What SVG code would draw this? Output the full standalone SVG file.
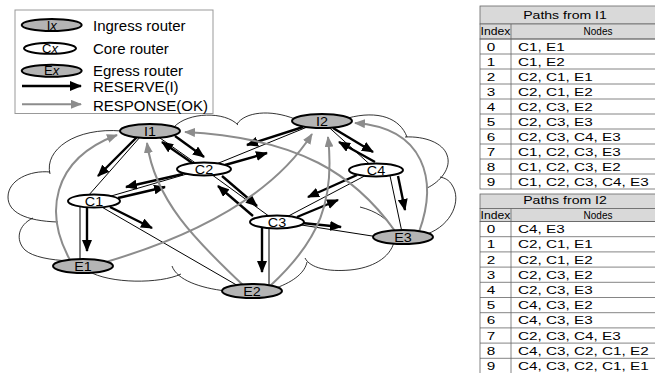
<svg xmlns="http://www.w3.org/2000/svg" width="655" height="373" viewBox="0 0 655 373">
<defs>
<style>
text{font-family:"Liberation Sans",Arial,sans-serif;fill:#000}
.gn{fill:#b4b4b4;stroke:#000;stroke-width:2}
.cn{fill:#fff;stroke:#000;stroke-width:2}
.lbl{font-size:12.5px;text-anchor:middle}
.link{stroke:#000;stroke-width:1;fill:none}
.rsv{stroke:#000;stroke-width:2.4;fill:none;marker-end:url(#ab)}
.rsp{stroke:#8c8c8c;stroke-width:2;fill:none;marker-end:url(#ag)}
.cloud{stroke:#000;stroke-width:0.8;fill:none}
.lg{font-size:15px}
.th{fill:#d9d9d9;stroke:#666;stroke-width:0.8}
.tl{stroke:#666;stroke-width:0.8;fill:none}
.tt{font-size:11.5px}
.hd{font-size:11px;text-anchor:middle}
.sm{font-size:10px;text-anchor:middle}
.ix{text-anchor:middle}
</style>
<marker id="ab" viewBox="0 0 12 10" refX="11" refY="5" markerWidth="12" markerHeight="10" markerUnits="userSpaceOnUse" orient="auto"><path d="M0,0 L12,5 L0,10 z" fill="#000"/></marker>
<marker id="ag" viewBox="0 0 11 9" refX="10" refY="4.5" markerWidth="11" markerHeight="9" markerUnits="userSpaceOnUse" orient="auto"><path d="M0,0 L11,4.5 L0,9 z" fill="#8c8c8c"/></marker>
</defs>
<rect width="655" height="373" fill="#fff"/>

<g id="legend">
<rect x="15" y="10" width="198" height="103.5" fill="#fff" stroke="#999" stroke-width="1"/>
<ellipse class="gn" cx="51.7" cy="25" rx="30" ry="6"/>
<text x="51.7" y="29.5" font-size="13" text-anchor="middle">I<tspan font-style="italic">x</tspan></text>
<ellipse class="cn" cx="50" cy="48.3" rx="26" ry="5.5"/>
<text x="50" y="52.8" font-size="13" text-anchor="middle">C<tspan font-style="italic">x</tspan></text>
<ellipse class="gn" cx="51.7" cy="70.7" rx="30" ry="6"/>
<text x="51.7" y="75.2" font-size="13" text-anchor="middle">E<tspan font-style="italic">x</tspan></text>
<line x1="22" y1="86" x2="81" y2="86" class="rsv"/>
<line x1="22" y1="104.3" x2="81" y2="104.3" class="rsp"/>
<text class="lg" x="93" y="30.5">Ingress router</text>
<text class="lg" x="93" y="53.5">Core router</text>
<text class="lg" x="93" y="75.5">Egress router</text>
<text class="lg" x="93" y="91.5">RESERVE(I)</text>
<text class="lg" x="93" y="110.5">RESPONSE(OK)</text>
</g>

<g id="cloud">
<path class="cloud" d="M50,174 C44,150 75,127 122,131"/>
<path class="cloud" d="M50,172 C30,170 8,180 8,197 C8,212 25,221 58,222"/>
<path class="cloud" d="M33,218 C18,225 15,240 25,250 C33,257 50,260 70,261"/>
<path class="cloud" d="M88,271 C110,284 160,284 181,274"/>
<path class="cloud" d="M172,266 C177,280 200,288 226,291"/>
<path class="cloud" d="M276,288 C295,281 305,272 307,262"/>
<path class="cloud" d="M305,258 C310,268 328,272 350,270 C372,268 390,258 394,242"/>
<path class="cloud" d="M427,234 C452,225 462,200 452,185 C449,180 445,178 440,177"/>
<path class="cloud" d="M427,188 C440,182 452,168 447,155 C443,143 425,136 405,137"/>
<path class="cloud" d="M348,118 C378,110 400,118 407,137"/>
<path class="cloud" d="M237,124 C245,112 270,109 295,119"/>
<path class="cloud" d="M174,127 C188,112 225,111 238,125"/>
<path class="cloud" d="M360,207 C376,211 388,219 393,229"/>
</g>

<g id="connectors">
<line class="link" x1="88" y1="196" x2="141" y2="136"/>
<line class="link" x1="80" y1="201" x2="80" y2="266"/>
<line class="link" x1="100" y1="206" x2="240" y2="287"/>
<line class="link" x1="269" y1="222" x2="269" y2="291"/>
<line class="link" x1="295" y1="224" x2="385" y2="238"/>
<line class="link" x1="389" y1="171" x2="403" y2="237"/>
<line class="link" x1="150" y1="131" x2="204" y2="169"/>
<line class="link" x1="94" y1="201" x2="204" y2="169"/>
<line class="link" x1="322" y1="121" x2="204" y2="169"/>
<line class="link" x1="204" y1="169" x2="277" y2="222"/>
<line class="link" x1="277" y1="222" x2="376" y2="170"/>
<line class="link" x1="322" y1="121" x2="376" y2="170"/>

<line class="rsv" x1="137" y1="137" x2="98" y2="176"/>
<line class="rsv" x1="175" y1="136" x2="204" y2="157"/>
<line class="rsv" x1="198" y1="167" x2="162" y2="142"/>
<line class="rsv" x1="183" y1="174" x2="126" y2="187"/>
<line class="rsv" x1="118" y1="198" x2="165" y2="187"/>
<line class="rsv" x1="87" y1="207" x2="87" y2="251"/>
<line class="rsv" x1="110" y1="207" x2="152" y2="228"/>
<line class="rsv" x1="303" y1="127" x2="247" y2="145"/>
<line class="rsv" x1="225" y1="165" x2="267" y2="153"/>
<line class="rsv" x1="222" y1="176" x2="257" y2="206"/>
<line class="rsv" x1="253" y1="216" x2="218" y2="186"/>
<line class="rsv" x1="357" y1="175" x2="308" y2="197"/>
<line class="rsv" x1="297" y1="217" x2="338" y2="200"/>
<line class="rsv" x1="302" y1="223" x2="341" y2="227"/>
<line class="rsv" x1="262" y1="227" x2="262" y2="272"/>
<line class="rsv" x1="333" y1="128" x2="373" y2="152"/>
<line class="rsv" x1="375" y1="162" x2="339" y2="142"/>
<line class="rsv" x1="398" y1="176" x2="405" y2="210"/>

<path class="rsp" d="M70,260 C45,215 50,160 117,135"/>
<path class="rsp" d="M106,262 C180,240 268,203 312,134"/>
<path class="rsp" d="M244,286 C195,240 155,200 147,143"/>
<path class="rsp" d="M270,286 C320,240 335,200 328,137"/>
<path class="rsp" d="M395,231 C355,175 300,138 185,132"/>
<path class="rsp" d="M419,232 C438,180 425,128 355,123"/>
</g>

<g id="I1"><ellipse class="gn" cx="150" cy="131" rx="30" ry="7"/><text class="lbl" transform="translate(150,135.5) scale(1.15,1)">I1</text></g>
<g id="I2"><ellipse class="gn" cx="322" cy="121" rx="30" ry="7"/><text class="lbl" transform="translate(322,125.5) scale(1.15,1)">I2</text></g>
<g id="C1"><ellipse class="cn" cx="94" cy="201" rx="26" ry="6.5"/><text class="lbl" transform="translate(94,205.5) scale(1.15,1)">C1</text></g>
<g id="C2"><ellipse class="cn" cx="204" cy="169" rx="27" ry="6.5"/><text class="lbl" transform="translate(204,173.5) scale(1.15,1)">C2</text></g>
<g id="C3"><ellipse class="cn" cx="277" cy="222" rx="27" ry="6.5"/><text class="lbl" transform="translate(277,226.5) scale(1.15,1)">C3</text></g>
<g id="C4"><ellipse class="cn" cx="376" cy="170" rx="27" ry="6.5"/><text class="lbl" transform="translate(376,174.5) scale(1.15,1)">C4</text></g>
<g id="E1"><ellipse class="gn" cx="83" cy="266" rx="30" ry="7"/><text class="lbl" transform="translate(83,270.5) scale(1.15,1)">E1</text></g>
<g id="E2"><ellipse class="gn" cx="252" cy="291" rx="30" ry="7"/><text class="lbl" transform="translate(252,295.5) scale(1.15,1)">E2</text></g>
<g id="E3"><ellipse class="gn" cx="403" cy="237" rx="30" ry="7"/><text class="lbl" transform="translate(403,241.5) scale(1.15,1)">E3</text></g>

<g id="table1">
<rect class="th" x="480" y="6" width="180" height="18"/>
<rect class="th" x="480" y="24" width="180" height="15"/>
<rect class="tl" x="480" y="39" width="180" height="150" fill="#fff"/>
<path class="tl" d="M480,54H660M480,69H660M480,84H660M480,99H660M480,114H660M480,129H660M480,144H660M480,159H660M480,174H660M511,24V189"/>
<text class="hd" transform="translate(565,18.5) scale(1.28,1)">Paths from I1</text>
<text class="sm" transform="translate(495.5,34.5) scale(1.22,1)">Index</text>
<text class="sm" x="598" y="34.5">Nodes</text>
<g class="tt">
<text class="ix" transform="translate(491,50.6) scale(1.33,1)">0</text><text transform="translate(518,50.6) scale(1.33,1)">C1, E1</text>
<text class="ix" transform="translate(491,65.6) scale(1.33,1)">1</text><text transform="translate(518,65.6) scale(1.33,1)">C1, E2</text>
<text class="ix" transform="translate(491,80.6) scale(1.33,1)">2</text><text transform="translate(518,80.6) scale(1.33,1)">C2, C1, E1</text>
<text class="ix" transform="translate(491,95.6) scale(1.33,1)">3</text><text transform="translate(518,95.6) scale(1.33,1)">C2, C1, E2</text>
<text class="ix" transform="translate(491,110.6) scale(1.33,1)">4</text><text transform="translate(518,110.6) scale(1.33,1)">C2, C3, E2</text>
<text class="ix" transform="translate(491,125.6) scale(1.33,1)">5</text><text transform="translate(518,125.6) scale(1.33,1)">C2, C3, E3</text>
<text class="ix" transform="translate(491,140.6) scale(1.33,1)">6</text><text transform="translate(518,140.6) scale(1.33,1)">C2, C3, C4, E3</text>
<text class="ix" transform="translate(491,155.6) scale(1.33,1)">7</text><text transform="translate(518,155.6) scale(1.33,1)">C1, C2, C3, E3</text>
<text class="ix" transform="translate(491,170.6) scale(1.33,1)">8</text><text transform="translate(518,170.6) scale(1.33,1)">C1, C2, C3, E2</text>
<text class="ix" transform="translate(491,185.6) scale(1.33,1)">9</text><text transform="translate(518,185.6) scale(1.33,1)">C1, C2, C3, C4, E3</text>
</g>
</g>

<g id="table2">
<rect class="th" x="480" y="194" width="180" height="14.5"/>
<rect class="th" x="480" y="208.5" width="180" height="13"/>
<rect class="tl" x="480" y="221.5" width="180" height="160" fill="#fff"/>
<path class="tl" d="M480,236.7H660M480,251.9H660M480,267.1H660M480,282.3H660M480,297.5H660M480,312.7H660M480,327.9H660M480,343.1H660M480,358.3H660M511,208.5V373"/>
<text class="hd" transform="translate(565,204) scale(1.28,1)">Paths from I2</text>
<text class="sm" transform="translate(495.5,218.5) scale(1.22,1)">Index</text>
<text class="sm" x="598" y="218.5">Nodes</text>
<g class="tt">
<text class="ix" transform="translate(491,233.2) scale(1.33,1)">0</text><text transform="translate(518,233.2) scale(1.33,1)">C4, E3</text>
<text class="ix" transform="translate(491,248.4) scale(1.33,1)">1</text><text transform="translate(518,248.4) scale(1.33,1)">C2, C1, E1</text>
<text class="ix" transform="translate(491,263.6) scale(1.33,1)">2</text><text transform="translate(518,263.6) scale(1.33,1)">C2, C1, E2</text>
<text class="ix" transform="translate(491,278.8) scale(1.33,1)">3</text><text transform="translate(518,278.8) scale(1.33,1)">C2, C3, E2</text>
<text class="ix" transform="translate(491,294) scale(1.33,1)">4</text><text transform="translate(518,294) scale(1.33,1)">C2, C3, E3</text>
<text class="ix" transform="translate(491,309.2) scale(1.33,1)">5</text><text transform="translate(518,309.2) scale(1.33,1)">C4, C3, E2</text>
<text class="ix" transform="translate(491,324.4) scale(1.33,1)">6</text><text transform="translate(518,324.4) scale(1.33,1)">C4, C3, E3</text>
<text class="ix" transform="translate(491,339.6) scale(1.33,1)">7</text><text transform="translate(518,339.6) scale(1.33,1)">C2, C3, C4, E3</text>
<text class="ix" transform="translate(491,354.8) scale(1.33,1)">8</text><text transform="translate(518,354.8) scale(1.33,1)">C4, C3, C2, C1, E2</text>
<text class="ix" transform="translate(491,370) scale(1.33,1)">9</text><text transform="translate(518,370) scale(1.33,1)">C4, C3, C2, C1, E1</text>
</g>
</g>
</svg>
